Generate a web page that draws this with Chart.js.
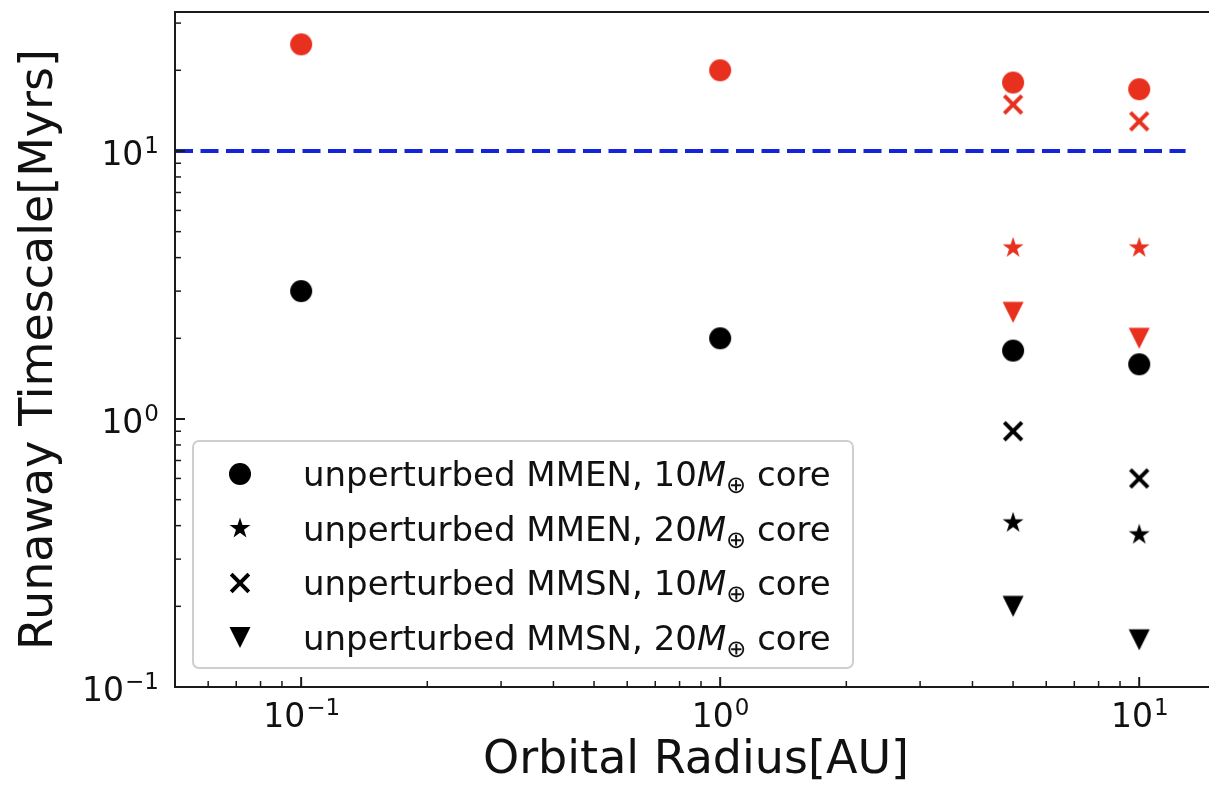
<!DOCTYPE html>
<html>
<head>
<meta charset="utf-8">
<script src="https://cdn.jsdelivr.net/npm/chart.js@4.4.0/dist/chart.umd.min.js"></script>
<style>
    html, body { margin: 0; padding: 0; overflow: hidden; background: #ffffff; }
    canvas { display: block; }
</style>
</head>
<body>
<canvas id="runaway-chart" width="1225" height="791"></canvas>
<script>
// orbital radii (AU)
const radiiAll = [0.1, 1, 5, 10];
const radiiOuter = [5, 10];

// runaway timescales (Myrs)
const redCircle = [25, 20, 18, 17];
const redCross = [14.9, 12.9];
const redStar = [4.35, 4.35];
const redTriangle = [2.5, 2.0];
const blackCircle = [3.0, 2.0, 1.8, 1.6];
const blackCross = [0.9, 0.6];
const blackStar = [0.41, 0.37];
const blackTriangle = [0.2, 0.15];

// 10 Myr reference line
const thresholdValue = 10;
const thresholdRange = [0.05, 12.9];

const xLimits = [0.05, 15];
const yLimits = [0.1, 33];
const tickValues = [0.1, 1, 10];
const tickExponents = ['\u22121', '0', '1'];

const legendLabels = ['unperturbed MMEN, ', 'unperturbed MMEN, ', 'unperturbed MMSN, ', 'unperturbed MMSN, '];
const legendCoreMass = ['10', '20', '10', '20'];
const legendShapes = ['circle', 'star', 'cross', 'triangleDown'];

const colors = {
    red: '#e8301f',
    black: '#000000',
    blue: '#1424dc',
    axis: '#1a1a1a',
    legendEdge: '#cfcfcf'
};
const FONT = '"DejaVu Sans", "Liberation Sans", sans-serif';

function drawMarker(g, shape, x, y, color) {
    g.save();
    g.fillStyle = color;
    g.strokeStyle = color;
    g.beginPath();
    if (shape === 'circle') {
        g.arc(x, y, 11, 0, Math.PI * 2);
        g.fill();
    } else if (shape === 'star') {
        const outer = 11, inner = 11 * 0.382;
        for (let i = 0; i < 10; i++) {
            const r = i % 2 === 0 ? outer : inner;
            const a = -Math.PI / 2 + i * Math.PI / 5;
            const px = x + r * Math.cos(a), py = y + r * Math.sin(a);
            if (i === 0) g.moveTo(px, py); else g.lineTo(px, py);
        }
        g.closePath();
        g.fill();
    } else if (shape === 'cross') {
        const r = 8.8;
        g.lineWidth = 4;
        g.moveTo(x - r, y - r); g.lineTo(x + r, y + r);
        g.moveTo(x + r, y - r); g.lineTo(x - r, y + r);
        g.stroke();
    } else if (shape === 'triangleDown') {
        const r = 10.5;
        g.moveTo(x, y + r);
        g.lineTo(x - r, y - r);
        g.lineTo(x + r, y - r);
        g.closePath();
        g.fill();
    }
    g.restore();
}

function makeMarker(shape, color) {
    const c = document.createElement('canvas');
    c.width = 28;
    c.height = 28;
    drawMarker(c.getContext('2d'), shape, 14, 14, color);
    return c;
}

function scatterSet(xs, ys, shape, color) {
    return {
        type: 'scatter',
        data: xs.map((x, i) => ({x: x, y: ys[i]})),
        pointStyle: makeMarker(shape, color),
        pointRadius: 11,
        showLine: false
    };
}

function drawPower(ctx, x, baseline, exp, align) {
    ctx.font = '33px ' + FONT;
    const wb = ctx.measureText('10').width;
    ctx.font = '23px ' + FONT;
    const we = ctx.measureText(exp).width;
    const start = align === 'right' ? x - wb - we : x - (wb + we) / 2;
    ctx.textAlign = 'left';
    ctx.textBaseline = 'alphabetic';
    ctx.font = '33px ' + FONT;
    ctx.fillText('10', start, baseline);
    ctx.font = '23px ' + FONT;
    ctx.fillText(exp, start + wb + 1, baseline - 12);
}

function minorValues(min, max) {
    const out = [];
    for (let k = Math.floor(Math.log10(min)); k <= Math.ceil(Math.log10(max)); k++) {
        for (let m = 1; m <= 9; m++) {
            const v = m * Math.pow(10, k);
            if (v >= min * 0.9999 && v <= max * 1.0001) out.push({v: v, major: m === 1});
        }
    }
    return out;
}

const axesDecor = {
    id: 'axesDecor',
    afterDraw(chart) {
        const {ctx, chartArea: a, scales} = chart;
        const xs = scales.x, ys = scales.y;
        ctx.save();

        // spines (the right one falls outside the picture)
        ctx.strokeStyle = colors.axis;
        ctx.lineWidth = 2;
        ctx.beginPath();
        ctx.moveTo(a.right + 20, a.top);
        ctx.lineTo(a.left, a.top);
        ctx.lineTo(a.left, a.bottom);
        ctx.lineTo(a.right + 20, a.bottom);
        ctx.stroke();

        // inward ticks
        minorValues(yLimits[0], yLimits[1]).forEach(t => {
            const py = ys.getPixelForValue(t.v);
            ctx.lineWidth = t.major ? 2 : 1.5;
            ctx.beginPath();
            ctx.moveTo(a.left, py);
            ctx.lineTo(a.left + (t.major ? 10 : 6), py);
            ctx.stroke();
        });
        minorValues(xLimits[0], xLimits[1]).forEach(t => {
            const px = xs.getPixelForValue(t.v);
            ctx.lineWidth = t.major ? 2 : 1.5;
            ctx.beginPath();
            ctx.moveTo(px, a.bottom);
            ctx.lineTo(px, a.bottom - (t.major ? 10 : 6));
            ctx.stroke();
        });

        // tick labels
        ctx.fillStyle = '#111111';
        tickValues.forEach((v, i) => {
            drawPower(ctx, a.left - 17, ys.getPixelForValue(v) + 14, tickExponents[i], 'right');
            drawPower(ctx, xs.getPixelForValue(v), a.bottom + 40, tickExponents[i], 'center');
        });

        // axis titles
        ctx.font = '46px ' + FONT;
        ctx.textAlign = 'center';
        ctx.textBaseline = 'alphabetic';
        ctx.fillText('Orbital Radius[AU]', (a.left + a.right) / 2 + 2, a.bottom + 86);
        ctx.save();
        ctx.translate(52, (a.top + a.bottom) / 2);
        ctx.rotate(-Math.PI / 2);
        ctx.fillText('Runaway Timescale[Myrs]', 0, 0);
        ctx.restore();

        // legend
        const box = {x: a.left + 18, y: a.bottom - 246, w: 660, h: 227};
        ctx.beginPath();
        ctx.roundRect(box.x, box.y, box.w, box.h, 6);
        ctx.fillStyle = 'rgba(255, 255, 255, 0.8)';
        ctx.fill();
        ctx.strokeStyle = colors.legendEdge;
        ctx.lineWidth = 2;
        ctx.stroke();

        legendLabels.forEach((label, i) => {
            const rowY = box.y + 33 + i * 54.5;
            drawMarker(ctx, legendShapes[i], box.x + 47, rowY, colors.black);
            let tx = box.x + 110;
            const base = rowY + 12;
            ctx.fillStyle = '#111111';
            ctx.textAlign = 'left';
            ctx.font = '34px ' + FONT;
            const first = label + legendCoreMass[i];
            ctx.fillText(first, tx, base);
            tx += ctx.measureText(first).width;
            ctx.font = 'italic 34px ' + FONT;
            ctx.fillText('M', tx, base);
            tx += ctx.measureText('M').width;
            ctx.font = '24px ' + FONT;
            ctx.fillText('\u2295', tx, base + 7);
            tx += ctx.measureText('\u2295').width;
            ctx.font = '34px ' + FONT;
            ctx.fillText(' core', tx, base);
        });

        ctx.restore();
    }
};

const chart = new Chart(document.getElementById('runaway-chart'), {
    type: 'scatter',
    data: {
        datasets: [
            {
                type: 'line',
                data: thresholdRange.map(x => ({x: x, y: thresholdValue})),
                borderColor: colors.blue,
                borderWidth: 4,
                borderDash: [18, 7.5],
                pointRadius: 0,
                showLine: true,
                fill: false
            },
            scatterSet(radiiAll, redCircle, 'circle', colors.red),
            scatterSet(radiiOuter, redCross, 'cross', colors.red),
            scatterSet(radiiOuter, redStar, 'star', colors.red),
            scatterSet(radiiOuter, redTriangle, 'triangleDown', colors.red),
            scatterSet(radiiAll, blackCircle, 'circle', colors.black),
            scatterSet(radiiOuter, blackCross, 'cross', colors.black),
            scatterSet(radiiOuter, blackStar, 'star', colors.black),
            scatterSet(radiiOuter, blackTriangle, 'triangleDown', colors.black)
        ]
    },
    options: {
        responsive: false,
        animation: false,
        layout: {
            padding: {left: 175, right: 9, top: 7, bottom: 104}
        },
        plugins: {
            legend: {display: false},
            tooltip: {enabled: false}
        },
        scales: {
            x: {
                type: 'logarithmic',
                min: xLimits[0],
                max: xLimits[1],
                display: false
            },
            y: {
                type: 'logarithmic',
                min: yLimits[0],
                max: yLimits[1],
                display: false
            }
        }
    },
    plugins: [axesDecor]
});
</script>
</body>
</html>
